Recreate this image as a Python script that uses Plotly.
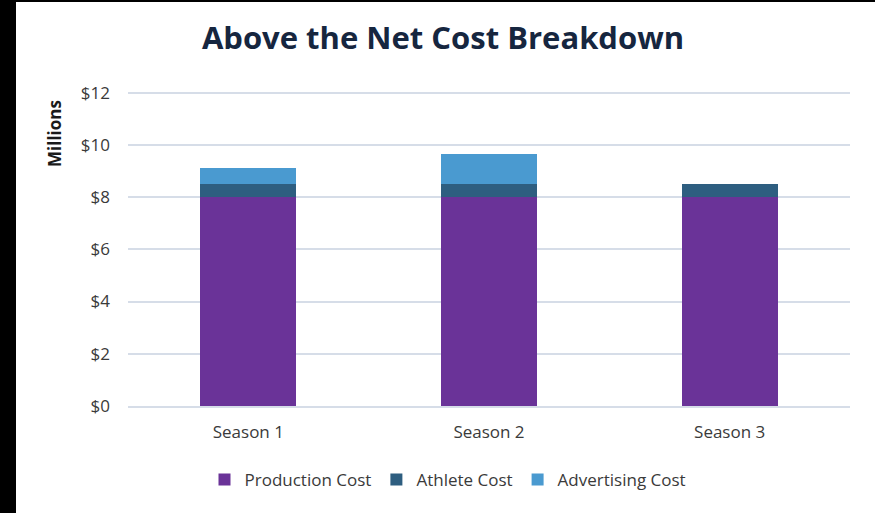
import plotly.graph_objects as go

# Cost breakdown per season, in millions of dollars
seasons = ["Season 1", "Season 2", "Season 3"]
production_cost = [8.0, 8.0, 8.0]
athlete_cost = [0.5, 0.5, 0.5]
advertising_cost = [0.6, 1.15, 0.0]
y_ticks = [0, 2, 4, 6, 8, 10, 12]
y_tick_labels = ["$0", "$2", "$4", "$6", "$8", "$10", "$12"]

W, H = 875, 513
M_L, M_R, M_T, M_B = 128, 25, 90, 107
plot_w = W - M_L - M_R
plot_h = H - M_T - M_B

fig = go.Figure()
fig.add_trace(go.Bar(name="Production Cost", x=seasons, y=production_cost,
                     marker=dict(color="#6a3398", line=dict(width=0))))
fig.add_trace(go.Bar(name="Athlete Cost", x=seasons, y=athlete_cost,
                     marker=dict(color="#2e5e80", line=dict(width=0))))
fig.add_trace(go.Bar(name="Advertising Cost", x=seasons, y=advertising_cost,
                     marker=dict(color="#4a9ad0", line=dict(width=0))))

base_font = "Open Sans, Arial, sans-serif"
label_color = "#3a3a3a"

fig.update_layout(
    width=W, height=H,
    margin=dict(l=M_L, r=M_R, t=M_T, b=M_B),
    barmode="stack",
    bargap=0.6,
    paper_bgcolor="white",
    plot_bgcolor="white",
    title=dict(
        text="<b>Above the Net Cost Breakdown</b>",
        x=443 / W, xanchor="center", xref="container",
        y=1 - 38 / H, yanchor="middle", yref="container",
        font=dict(family=base_font, size=31, color="#16263f"),
    ),
    xaxis=dict(
        tickfont=dict(family=base_font, size=17, color=label_color),
        showline=True, linecolor="#d6dde8", linewidth=1.5,
        ticks="", showgrid=False,
        ticklabelstandoff=10,
    ),
    yaxis=dict(
        range=[0, 12.1],
        tickvals=y_ticks, ticktext=y_tick_labels,
        tickfont=dict(family=base_font, size=17, color=label_color),
        showgrid=True, gridcolor="#d6dde8", gridwidth=1.5,
        zeroline=False, showline=False, ticks="",
        ticklabelstandoff=17,
    ),
    legend=dict(
        orientation="h",
        x=448 / W, xanchor="center", xref="container",
        y=1 - 480 / H, yanchor="middle", yref="container",
        font=dict(family=base_font, size=17, color=label_color),
        itemwidth=30,
        traceorder="normal",
    ),
    showlegend=True,
)

# Vertical axis unit label
fig.add_annotation(
    text="<b>Millions</b>", textangle=-90,
    xref="paper", yref="paper",
    x=(54 - M_L) / plot_w, y=(H - M_B - 134) / plot_h,
    xanchor="center", yanchor="middle", showarrow=False,
    font=dict(family=base_font, size=17, color="#1a1a1a"),
)

# Dark frame strip on the left edge and a thin one along the top
fig.add_shape(type="rect", xref="paper", yref="paper",
              x0=-M_L / plot_w, x1=(16 - M_L) / plot_w,
              y0=-M_B / plot_h, y1=1 + M_T / plot_h,
              fillcolor="black", line=dict(width=0), layer="above")
fig.add_shape(type="rect", xref="paper", yref="paper",
              x0=-M_L / plot_w, x1=1 + M_R / plot_w,
              y0=1 + (M_T - 2) / plot_h, y1=1 + M_T / plot_h,
              fillcolor="black", line=dict(width=0), layer="above")

fig.write_html("out.html")
